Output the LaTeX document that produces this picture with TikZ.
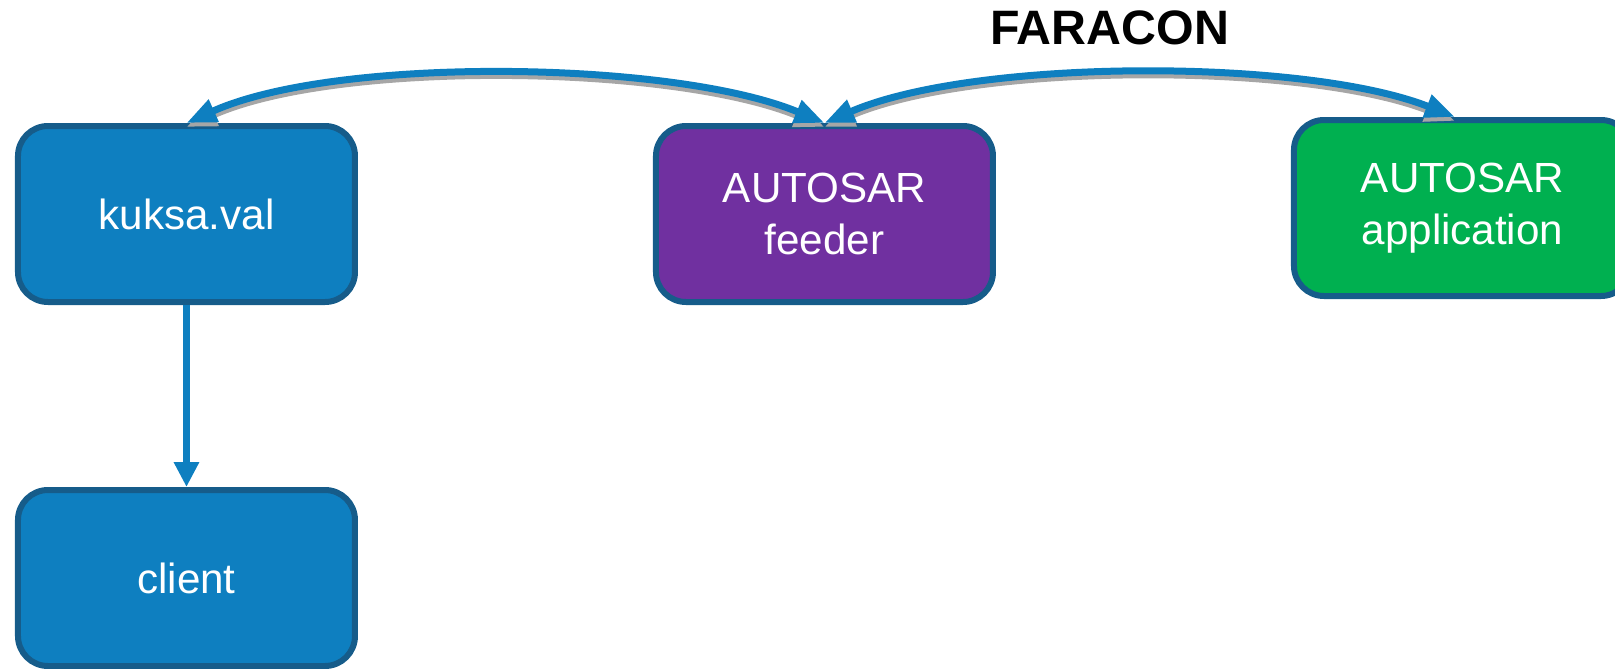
\documentclass[tikz,border=0pt]{standalone}
\usepackage{fontspec}
\setmainfont{Liberation Sans}
\usepackage{tikz}
\usetikzlibrary{arrows.meta,calc,shapes.geometric}

\definecolor{boxblue}{RGB}{14,127,192}
\definecolor{boxpurple}{RGB}{112,48,160}
\definecolor{boxgreen}{RGB}{0,176,80}
\definecolor{rimblue}{RGB}{22,92,138}

\begin{document}
\begin{tikzpicture}[auto]
\tikzstyle{block} = [rectangle, draw=rimblue, line width=0.12cm, fill=boxblue,
text=white, text width=6.2cm, text centered, rounded corners=0.6cm,
minimum width=6.74cm, minimum height=3.52cm, font=\fontsize{24}{29.5}\selectfont]
\tikzstyle{block_feeder} = [block, fill=boxpurple]
\tikzstyle{block_app} = [block, fill=boxgreen]
\tikzstyle{title} = [font=\fontsize{27.5}{32}\selectfont\bfseries]
\tikzstyle{tips} = [{Triangle[length=0.6cm,width=0.46cm]}-{Triangle[length=0.6cm,width=0.46cm]}]
\tikzstyle{line} = [draw, line width=0.14cm, boxblue, tips];
\tikzstyle{shade} = [draw, line width=0.14cm, black!35, tips, transform canvas={yshift=-0.08cm}];
\tikzstyle{down} = [draw, line width=0.15cm, boxblue, -{Triangle[length=0.5cm,width=0.48cm]}];
\matrix [column sep=5.9cm,row sep=3.64cm]
{
% row 1
\node [block] (kuksa) {kuksa.val}; &
\node [block_feeder] (feeder) {AUTOSAR\\feeder}; &
\node [block_app, yshift=0.12cm] (app) {AUTOSAR\\application}; \\
% row 2
\node [block] (client) {client}; & & \\
};
\node [title] (faracon) at ([shift={(5.7,3.72)}]feeder.center) {FARACON};
% shadow first, then the arrows
\path [shade] (feeder.north) .. controls +(-3.0,1.25) and +(3.0,1.35) .. (kuksa.north);
\path [shade] (feeder.north) .. controls +(3.0,1.3) and +(-3.0,1.18) .. ([xshift=-0.15cm]app.north);
\path [line] (feeder.north) .. controls +(-3.0,1.25) and +(3.0,1.35) .. (kuksa.north);
\path [line] (feeder.north) .. controls +(3.0,1.3) and +(-3.0,1.18) .. ([xshift=-0.15cm]app.north);
\path [down] (kuksa.south) -- (client.north);

\pgfresetboundingbox
\useasboundingbox ($(kuksa.center)+(-3.73,4.28)$) rectangle ($(kuksa.center)+(28.57,-9.08)$);
\end{tikzpicture}
\end{document}
